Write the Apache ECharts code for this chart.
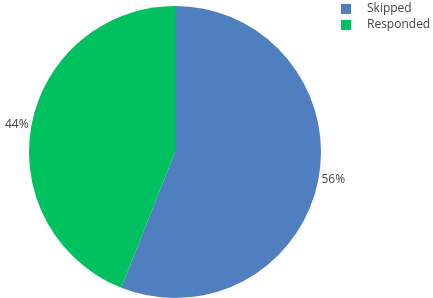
<!DOCTYPE html>
<html><head><meta charset="utf-8">
<script src="https://cdn.jsdelivr.net/npm/echarts@6/dist/echarts.min.js"></script>
<style>html,body{margin:0;padding:0;background:#fff}#c{width:433px;height:298px}</style>
</head><body><div id="c"></div>
<script>
const categories = ["Skipped", "Responded"];
const values = [56, 44];
const colors = ["#4f7fbe", "#00c060"];
const chart = echarts.init(document.getElementById('c'), null, {renderer: 'canvas'});
chart.setOption({
  animation: false,
  color: colors,
  legend: {
    data: categories,
    orient: 'vertical',
    left: 341, top: 3, padding: 0,
    itemWidth: 10, itemHeight: 10, itemGap: 4,
    icon: 'rect',
    textStyle: {fontFamily: 'Open Sans', fontSize: 12, color: '#444', padding: [0,0,0,11]}
  },
  series: [{
    type: 'pie',
    center: [175, 152],
    radius: [0, 146],
    startAngle: 90,
    clockwise: true,
    avoidLabelOverlap: false,
    data: categories.map((c, i) => ({name: c, value: values[i]})),
    label: {show: true, position: 'outside', formatter: '{d}%', fontFamily: 'Open Sans', fontSize: 12, color: '#444', overflow: 'none', distanceToLabelLine: 3},
    labelLine: {show: false, length: 0, length2: 0},
    itemStyle: {borderWidth: 0},
    emphasis: {disabled: true}
  }]
});
</script></body></html>
